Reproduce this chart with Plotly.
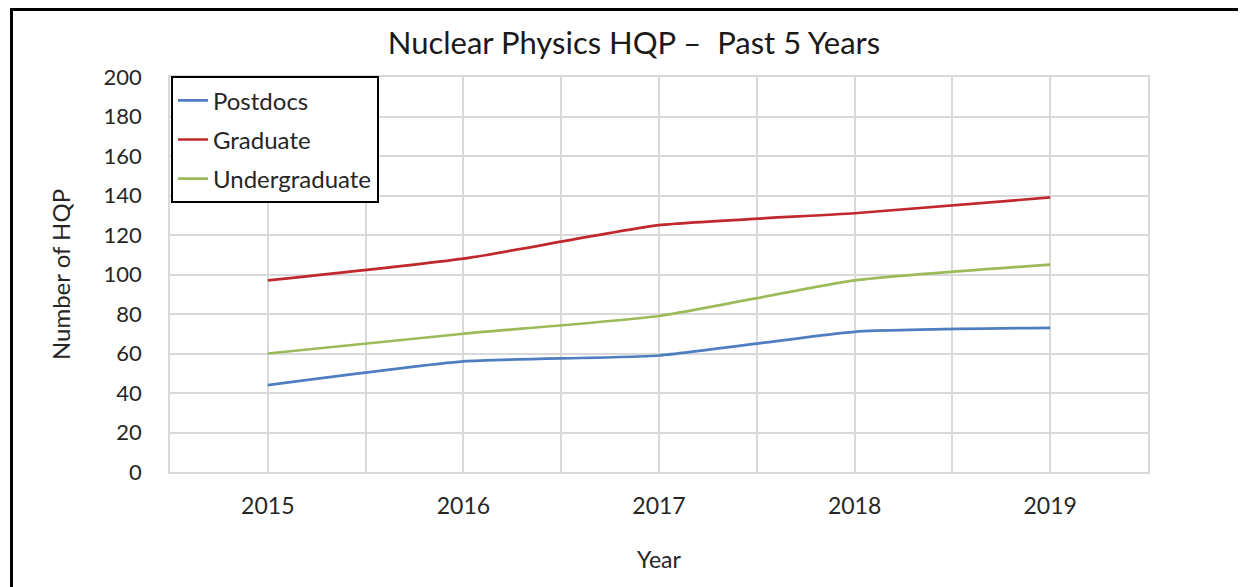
import plotly.graph_objects as go

years = [2015, 2016, 2017, 2018, 2019]
postdocs = [44, 56, 59, 71, 73]
graduate = [97, 108, 125, 131, 139]
undergraduate = [60, 70, 79, 97, 105]

series_names = ["Postdocs", "Graduate", "Undergraduate"]
series_values = [postdocs, graduate, undergraduate]
series_colors = ["#4F7EC0", "#C0282D", "#9BBB59"]

y_ticks = list(range(0, 201, 20))

FONT = "Lato, 'Open Sans', sans-serif"
TXT = "#262626"
GRID = "#D9D9D9"

# page body has an 8px margin; compensate so the plot lands where the reference has it
OFF = 8
W, H = 1246 - OFF, 587 - OFF

fig = go.Figure()
for i, (name, vals, col) in enumerate(zip(series_names, series_values, series_colors)):
    fig.add_trace(go.Scatter(
        x=years, y=vals, mode="lines", name=name,
        line=dict(color=col, width=2.7, shape="spline", smoothing=0.5),
        legendgroup=f"g{i}",
    ))

# grid lines at category centres and boundaries
half_steps = [years[0] - 0.5 + 0.5 * k for k in range(2 * len(years) + 1)]
half_text = [str(int(v)) if float(v).is_integer() else "" for v in half_steps]

fig.update_layout(
    width=W, height=H,
    margin=dict(l=170 - OFF, r=98, t=77 - OFF, b=115),
    paper_bgcolor="white", plot_bgcolor="white",
    font=dict(family=FONT, color=TXT, size=22),
    title=dict(text="Nuclear Physics HQP \u2013  Past 5 Years", x=(634 - OFF) / W, xanchor="center",
               y=1 - (43 - OFF) / H, yanchor="middle", xref="container", yref="container",
               font=dict(size=31, color="#1A1A1A", family=FONT)),
    showlegend=True,
    legend=dict(x=0.001, y=1.002, xanchor="left", yanchor="top",
                bordercolor="#000000", borderwidth=2, bgcolor="white",
                font=dict(size=24, color=TXT, family=FONT),
                tracegroupgap=5, itemwidth=30),
    xaxis=dict(range=[years[0] - 0.5, years[-1] + 0.5], tickmode="array",
               tickvals=half_steps, ticktext=half_text,
               showgrid=True, gridcolor=GRID, gridwidth=1.5,
               showline=True, linecolor=GRID, linewidth=2, mirror=True,
               ticks="outside", ticklen=12, tickcolor="rgba(0,0,0,0)",
               zeroline=False,
               title=dict(text="Year", standoff=34, font=dict(size=23, color=TXT, family=FONT)),
               tickfont=dict(size=23, color=TXT, family=FONT)),
    yaxis=dict(range=[0, 200], tickmode="array", tickvals=y_ticks,
               showgrid=True, gridcolor=GRID, gridwidth=1.5,
               showline=True, linecolor=GRID, linewidth=1.5, mirror=True,
               ticks="outside", ticklen=22, tickcolor="rgba(0,0,0,0)",
               zeroline=False,
               title=dict(text="Number of HQP", standoff=26, font=dict(size=24, color=TXT, family=FONT)),
               tickfont=dict(size=22, color=TXT, family=FONT)),
)

# outer chart frame (partly outside the visible page, as in the reference)
fig.add_shape(type="rect", xref="paper", yref="paper",
              x0=(11.5 - 170) / 978, x1=(1260 - 170) / 978,
              y0=(472 - 600) / 395, y1=(472 - 9.5) / 395,
              line=dict(color="black", width=3), fillcolor="rgba(0,0,0,0)", layer="above")

fig.write_html("out.html")
